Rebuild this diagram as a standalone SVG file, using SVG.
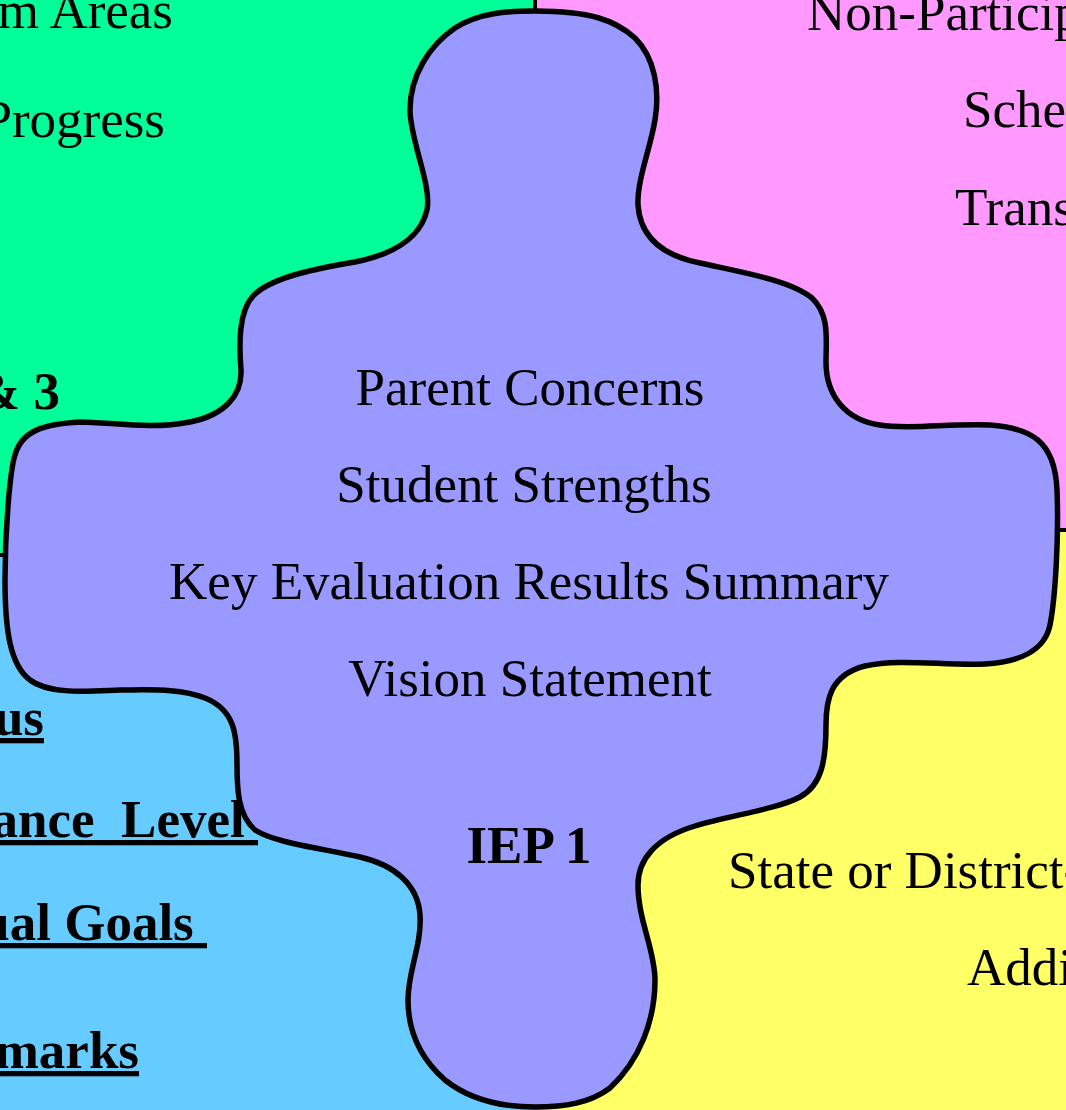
<svg xmlns="http://www.w3.org/2000/svg" width="1066" height="1110" viewBox="0 0 1066 1110">
<style>
.sep{stroke:#000;stroke-width:4}
.t{font-family:"Liberation Serif","Times New Roman",serif;font-size:53px;fill:#000}
.b{font-weight:bold}
.u{text-decoration:underline}
.e{text-anchor:end}
.m{text-anchor:middle}
</style>
<g id="quadrant-green"><rect x="0" y="0" width="535" height="555" fill="#00FF99"/></g>
<g id="quadrant-pink"><rect x="535" y="0" width="531" height="530" fill="#FF99FF"/></g>
<g id="quadrant-blue"><rect x="0" y="555" width="540" height="555" fill="#66CCFF"/></g>
<g id="quadrant-yellow"><rect x="540" y="530" width="526" height="580" fill="#FFFF66"/></g>
<g id="separators">
<line class="sep" x1="535" y1="0" x2="535" y2="20"/>
<line class="sep" x1="1045" y1="530" x2="1066" y2="530"/>
<line class="sep" x1="0" y1="555" x2="12" y2="555"/>
</g>
<g id="iep1">
<path d="M 535,11 C 590,11 615,20 635,38 C 655,58 660,90 655,120 C 650,150 637,180 638,205 C 640,235 660,255 700,263 C 740,272 790,280 812,298 C 830,315 826,340 826,362 C 826,395 845,420 880,425 C 910,430 950,423 990,425 C 1030,428 1055,440 1057,490 C 1059,540 1055,600 1050,625 C 1045,650 1020,662 985,664 C 945,666 900,658 865,666 C 830,675 826,700 826,725 C 826,760 822,785 800,797 C 775,810 730,815 695,826 C 655,838 638,860 638,885 C 638,920 655,950 655,980 C 655,1020 640,1060 610,1088 C 590,1103 565,1107 535,1107 C 500,1107 470,1100 445,1080 C 420,1058 408,1030 408,1000 C 408,970 422,945 420,915 C 418,885 395,865 360,857 C 320,848 275,843 255,830 C 238,815 237,790 237,765 C 237,735 235,710 205,698 C 180,688 150,690 120,690 C 90,691 50,695 30,680 C 10,665 5,630 5,580 C 5,530 10,470 15,455 C 22,430 45,424 80,422 C 110,422 150,430 190,422 C 225,415 242,395 241,370 C 239,345 238,310 255,294 C 275,276 320,268 355,262 C 390,255 420,240 427,210 C 432,185 410,140 410,110 C 410,75 430,45 455,28 C 480,12 510,11 535,11 Z" fill="#9999FF" stroke="#000" stroke-width="5.5" stroke-linejoin="round"/>
<text class="t m" x="530" y="405">Parent Concerns</text>
<text class="t m" x="524" y="502">Student Strengths</text>
<text class="t m" x="529" y="599">Key Evaluation Results Summary</text>
<text class="t m" x="530" y="696">Vision Statement</text>
<text class="t b m" x="529" y="863">IEP 1</text>
</g>
<g id="green-text">
<text class="t e" x="173" y="28">m Areas</text>
<text class="t e" x="165" y="137">Progress</text>
<text class="t b e" x="60" y="409">&amp; 3</text>
</g>
<g id="pink-text">
<text class="t" x="807" y="30">Non-Particip</text>
<text class="t" x="963" y="127">Sche</text>
<text class="t" x="955" y="225">Trans</text>
</g>
<g id="blue-text">
<text class="t b u e" x="44" y="735">us</text>
<text class="t b u e" x="258" y="837" xml:space="preserve">ance  Level </text>
<text class="t b u e" x="207" y="940" xml:space="preserve">ual Goals </text>
<text class="t b u e" x="139" y="1068">marks</text>
</g>
<g id="yellow-text">
<text class="t" x="728" y="888">State or District-</text>
<text class="t" x="967" y="985">Addi</text>
</g>
</svg>
